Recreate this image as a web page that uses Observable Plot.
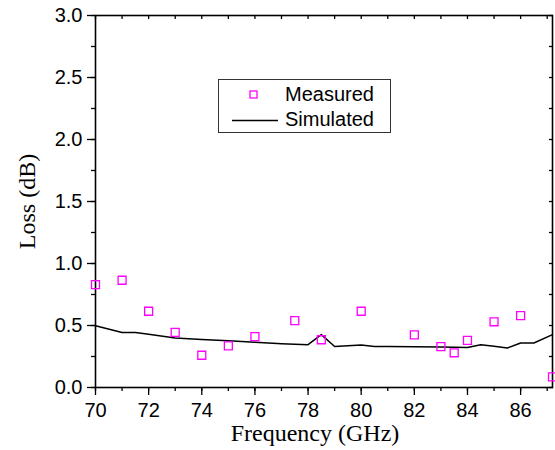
<!DOCTYPE html>
<html>
<head>
<meta charset="utf-8">
<script src="https://cdn.jsdelivr.net/npm/d3@7"></script>
<script src="https://cdn.jsdelivr.net/npm/@observablehq/plot@0.6"></script>
<style>
  body { margin: 0; background: white; }
  #wrap { position: relative; width: 555px; height: 450px; }
  #legend {
    position: absolute; left: 218px; top: 79px; width: 171px; height: 52px;
    border: 1.3px solid #333; background: white;
    font-family: "Liberation Sans", Arial, sans-serif; font-size: 20px; color: black;
  }
  #legend .row { position: absolute; left: 0; height: 24px; line-height: 24px; }
  #legend .lab { position: absolute; left: 66px; white-space: nowrap; }
</style>
</head>
<body>
<div id="wrap">
  <div id="chart"></div>
  <div id="legend">
    <div class="row" style="top:2px;width:171px;">
      <svg style="position:absolute;left:30px;top:8px" width="10" height="10"><rect x="1" y="1" width="7" height="7" fill="none" stroke="#ff00ff" stroke-width="1.3"/></svg>
      <span class="lab">Measured</span>
    </div>
    <div class="row" style="top:27px;width:171px;">
      <svg style="position:absolute;left:13px;top:12px" width="48" height="4"><line x1="0" y1="1.5" x2="46" y2="1.5" stroke="black" stroke-width="1.5"/></svg>
      <span class="lab">Simulated</span>
    </div>
  </div>
</div>
<script>
const freqMeasured = [70, 71, 72, 73, 74, 75, 76, 77.5, 78.5, 80, 82, 83, 83.5, 84, 85, 86, 87.2];
const lossMeasured = [0.83, 0.865, 0.615, 0.445, 0.26, 0.335, 0.41, 0.54, 0.385, 0.615, 0.425, 0.33, 0.28, 0.38, 0.53, 0.58, 0.085];

const freqSimulated = [70, 71, 71.5, 72, 73, 74, 75, 76, 77, 78, 78.5, 79, 80, 80.5, 81, 82, 83, 84, 84.5, 85, 85.5, 86, 86.5, 87.2];
const lossSimulated = [0.498, 0.444, 0.444, 0.43, 0.399, 0.388, 0.377, 0.364, 0.353, 0.345, 0.426, 0.331, 0.342, 0.331, 0.33, 0.328, 0.326, 0.323, 0.345, 0.333, 0.318, 0.359, 0.359, 0.426];

const xMajorTicks = [70, 72, 74, 76, 78, 80, 82, 84, 86];
const xMinorTicks = [70, 71, 72, 73, 74, 75, 76, 77, 78, 79, 80, 81, 82, 83, 84, 85, 86, 87];
const yMajorTicks = [0, 0.5, 1.0, 1.5, 2.0, 2.5, 3.0];
const yMinorTicks = [0, 0.25, 0.5, 0.75, 1.0, 1.25, 1.5, 1.75, 2.0, 2.25, 2.5, 2.75, 3.0];

const xLabel = "Frequency (GHz)";
const yLabel = "Loss (dB)";

const measured = freqMeasured.map((f, i) => ({f, loss: lossMeasured[i]}));
const simulated = freqSimulated.map((f, i) => ({f, loss: lossSimulated[i]}));

const serif = "'Liberation Serif', 'Times New Roman', serif";

const chart = Plot.plot({
  width: 555,
  height: 450,
  marginLeft: 95,
  marginRight: 3,
  marginTop: 15,
  marginBottom: 63,
  x: {domain: [70, 87.2]},
  y: {domain: [0, 3]},
  style: {fontFamily: "'Liberation Sans', Arial, sans-serif", fontSize: "20px", color: "black", background: "white", overflow: "visible"},
  marks: [
    Plot.axisX(xMajorTicks, {tickSize: 8, tickPadding: 7, tickFormat: d => String(d), label: null, fontSize: 20, strokeWidth: 1.3}),
    Plot.axisX(xMinorTicks, {tickSize: 4, text: null, label: null, strokeWidth: 1.3}),
    Plot.axisX(xMinorTicks, {anchor: "top", tickSize: 3, dy: 3, text: null, label: null, strokeWidth: 1.3}),
    Plot.axisY(yMajorTicks, {tickSize: 8, tickPadding: 5, tickFormat: d3.format(".1f"), label: null, fontSize: 20, strokeWidth: 1.3}),
    Plot.axisY(yMinorTicks, {tickSize: 4, text: null, label: null, strokeWidth: 1.3}),
    Plot.axisY(yMinorTicks, {anchor: "right", tickSize: 4, dx: -4, text: null, label: null, strokeWidth: 1.3}),
    Plot.frame({stroke: "black", strokeWidth: 1.6}),
    Plot.line(simulated, {x: "f", y: "loss", stroke: "black", strokeWidth: 1.5}),
    Plot.dot(measured, {x: "f", y: "loss", symbol: "square", r: 4.5, stroke: "#ff00ff", strokeWidth: 1.3, fill: "none"}),
    Plot.text([yLabel], {frameAnchor: "left", dx: -68, rotate: -90, textAnchor: "middle", lineAnchor: "middle", fontFamily: serif, fontSize: 24, fill: "black"}),
    Plot.text([xLabel], {frameAnchor: "bottom", dy: 46, dx: -9, textAnchor: "middle", lineAnchor: "middle", fontFamily: serif, fontSize: 24, fill: "black"})
  ]
});
document.getElementById("chart").appendChild(chart);
</script>
</body>
</html>
